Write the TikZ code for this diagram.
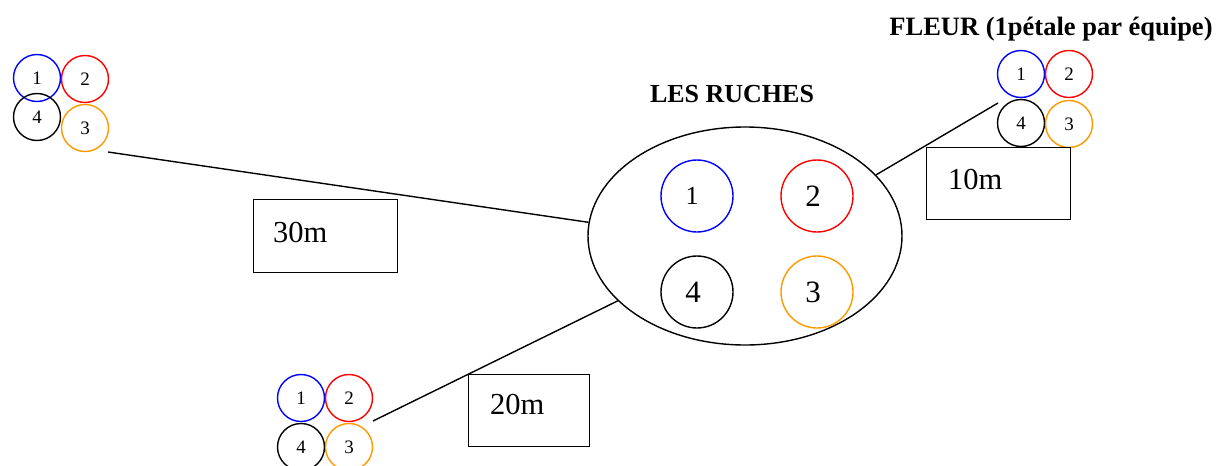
\documentclass[tikz,border=0pt]{standalone}
\usepackage{fontspec}
\setmainfont{Liberation Serif}
\usetikzlibrary{shapes.geometric}
\definecolor{teamblue}{RGB}{0,0,255}
\definecolor{teamred}{RGB}{255,0,0}
\definecolor{teamorange}{RGB}{255,153,0}
\tikzset{
  stroke/.style={line width=1.4pt},
  petal/.style={circle, draw, stroke, minimum size=47pt, inner sep=0pt,
    font=\fontsize{19}{19}\selectfont},
  cell/.style={circle, draw, stroke, minimum size=72pt, inner sep=0pt},
  bignum/.style={font=\fontsize{31}{31}\selectfont, inner sep=0pt},
  midnum/.style={font=\fontsize{26}{26}\selectfont, inner sep=0pt},
  distbox/.style={draw, stroke, anchor=north west, inner sep=0pt},
  distlabel/.style={anchor=west, inner sep=0pt, font=\fontsize{30.5}{30.5}\selectfont},
  heading/.style={anchor=base, inner sep=0pt, font=\fontsize{26}{26}\selectfont\bfseries},
  link/.style={stroke}
}
\begin{document}
\begin{tikzpicture}[x=1pt, y=-1pt]
  \fill[white] (0,0) rectangle (1219,466);
  \useasboundingbox (0,0) rectangle (1219,466);

  % headings
  \node[heading] (hivetitle) at (732,102) {LES RUCHES};
  \node[heading, font=\fontsize{26.5}{26.5}\selectfont\bfseries] (flowertitle) at (1051,35) {FLEUR (1pétale par équipe)};

  % the hives: one ellipse holding four team cells
  \node[ellipse, draw, stroke, minimum width=314pt, minimum height=218pt, inner sep=0pt] (hive) at (745,236) {};
  \node[cell, teamblue]   (h1) at (697,196) {};
  \node[cell, teamred]    (h2) at (817,196) {};
  \node[cell, black]      (h4) at (697,292) {};
  \node[cell, teamorange] (h3) at (817,292) {};
  \node[midnum] (h1t) at (692,196) {1};
  \node[bignum] (h2t) at (813,196) {2};
  \node[bignum] (h4t) at (693,292) {4};
  \node[bignum] (h3t) at (813,292) {3};

  % flower, upper left
  \node[petal, draw=teamblue]   (a1) at (37,78)  {1};
  \node[petal, draw=teamred]    (a2) at (85,79)  {2};
  \node[petal, draw=black]      (a4) at (37,117) {4};
  \node[petal, draw=teamorange] (a3) at (85,128) {3};

  % flower, lower left
  \node[petal, draw=teamblue]   (b1) at (301,398) {1};
  \node[petal, draw=teamred]    (b2) at (349,398) {2};
  \node[petal, draw=black]      (b4) at (301,447) {4};
  \node[petal, draw=teamorange] (b3) at (349,447) {3};

  % flower, upper right
  \node[petal, draw=teamblue]   (c1) at (1021,74)  {1};
  \node[petal, draw=teamred]    (c2) at (1069,74)  {2};
  \node[petal, draw=black]      (c4) at (1021,123) {4};
  \node[petal, draw=teamorange] (c3) at (1069,124) {3};

  % loose ends of the paths near each flower
  \coordinate (aend) at (108,152);
  \coordinate (bend) at (373,421);
  \coordinate (cend) at (998,103);

  % paths from the hive to the flowers
  \draw[link] (hive.175) -- (aend);
  \draw[link] (hive.207) -- (bend);
  \draw[link] (hive.25) -- (cend);

  % distance boxes
  \node[distbox, minimum width=144pt, minimum height=73pt] (d30) at (253,199) {};
  \node[distlabel] (d30t) at (273,233) {30m};
  \node[distbox, minimum width=121pt, minimum height=72pt] (d20) at (468,374) {};
  \node[distlabel] (d20t) at (490,405) {20m};
  \node[distbox, minimum width=144pt, minimum height=72pt] (d10) at (926,147) {};
  \node[distlabel] (d10t) at (948,180) {10m};
\end{tikzpicture}
\end{document}
